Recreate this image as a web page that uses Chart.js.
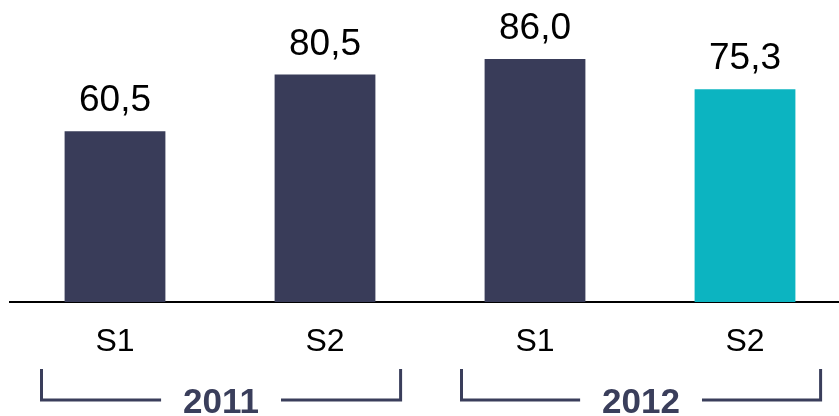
<!DOCTYPE html>
<html>
<head>
<meta charset="utf-8">
<script src="https://cdn.jsdelivr.net/npm/chart.js"></script>
<style>
  html, body { margin: 0; padding: 0; overflow: hidden; background: #fff; }
  #wrap { width: 850px; height: 416px; }
</style>
</head>
<body>
<div id="wrap"><canvas id="chart"></canvas></div>
<script>
// Chart data
const categories = ['S1', 'S2', 'S1', 'S2'];
const values = [60.5, 80.5, 86.0, 75.3];
const barColors = ['#393c59', '#393c59', '#393c59', '#0cb4c1'];
const years = ['2011', '2012'];
const yearSpans = [[0, 1], [2, 3]]; // first/last category index of each year

const FONT = '"Liberation Sans", Arial, sans-serif';
const NAVY = '#3a3e5b';

// Value labels above each bar, with decimal comma
const valueLabels = {
  id: 'valueLabels',
  afterDatasetsDraw(chart) {
    const ctx = chart.ctx;
    const meta = chart.getDatasetMeta(0);
    ctx.save();
    ctx.font = '37px ' + FONT;
    ctx.fillStyle = '#000';
    ctx.textAlign = 'center';
    ctx.textBaseline = 'alphabetic';
    meta.data.forEach((bar, i) => {
      ctx.fillText(values[i].toFixed(1).replace('.', ','), bar.x, bar.y - 20);
    });
    ctx.restore();
  }
};

// Year brackets under the category labels
const yearBrackets = {
  id: 'yearBrackets',
  afterDraw(chart) {
    const ctx = chart.ctx;
    const x = chart.scales.x;
    const step = x.getPixelForValue(1) - x.getPixelForValue(0);
    const bottom = chart.chartArea.bottom;
    const top = bottom + 67;
    const base = bottom + 98;
    ctx.save();
    ctx.strokeStyle = NAVY;
    ctx.fillStyle = NAVY;
    ctx.lineWidth = 3;
    ctx.font = 'bold 35px ' + FONT;
    ctx.textAlign = 'center';
    ctx.textBaseline = 'alphabetic';
    yearSpans.forEach(([a, b], k) => {
      const left = x.getPixelForValue(a) - step * 0.35;
      const right = x.getPixelForValue(b) + step * 0.36;
      const mid = (left + right) / 2;
      const half = ctx.measureText(years[k]).width / 2 + 22;
      ctx.beginPath();
      ctx.moveTo(left, top);
      ctx.lineTo(left, base);
      ctx.lineTo(mid - half, base);
      ctx.moveTo(mid + half, base);
      ctx.lineTo(right, base);
      ctx.lineTo(right, top);
      ctx.stroke();
      ctx.fillText(years[k], mid, bottom + 110.5);
    });
    ctx.restore();
  }
};

new Chart(document.getElementById('chart'), {
  type: 'bar',
  data: {
    labels: categories,
    datasets: [{
      data: values,
      backgroundColor: barColors,
      borderWidth: 0,
      categoryPercentage: 1,
      barPercentage: 0.48
    }]
  },
  options: {
    responsive: true,
    maintainAspectRatio: false,
    animation: false,
    layout: { padding: { top: 19.5, left: 10, right: 0, bottom: 33.5 } },
    plugins: {
      legend: { display: false },
      tooltip: { enabled: false }
    },
    scales: {
      y: { display: false, min: 0, max: 100 },
      x: {
        grid: { display: false, drawTicks: false },
        border: { display: true, color: '#000', width: 2 },
        ticks: { color: '#000', padding: 21, font: { family: FONT, size: 32 } }
      }
    }
  },
  plugins: [valueLabels, yearBrackets]
});
</script>
</body>
</html>
